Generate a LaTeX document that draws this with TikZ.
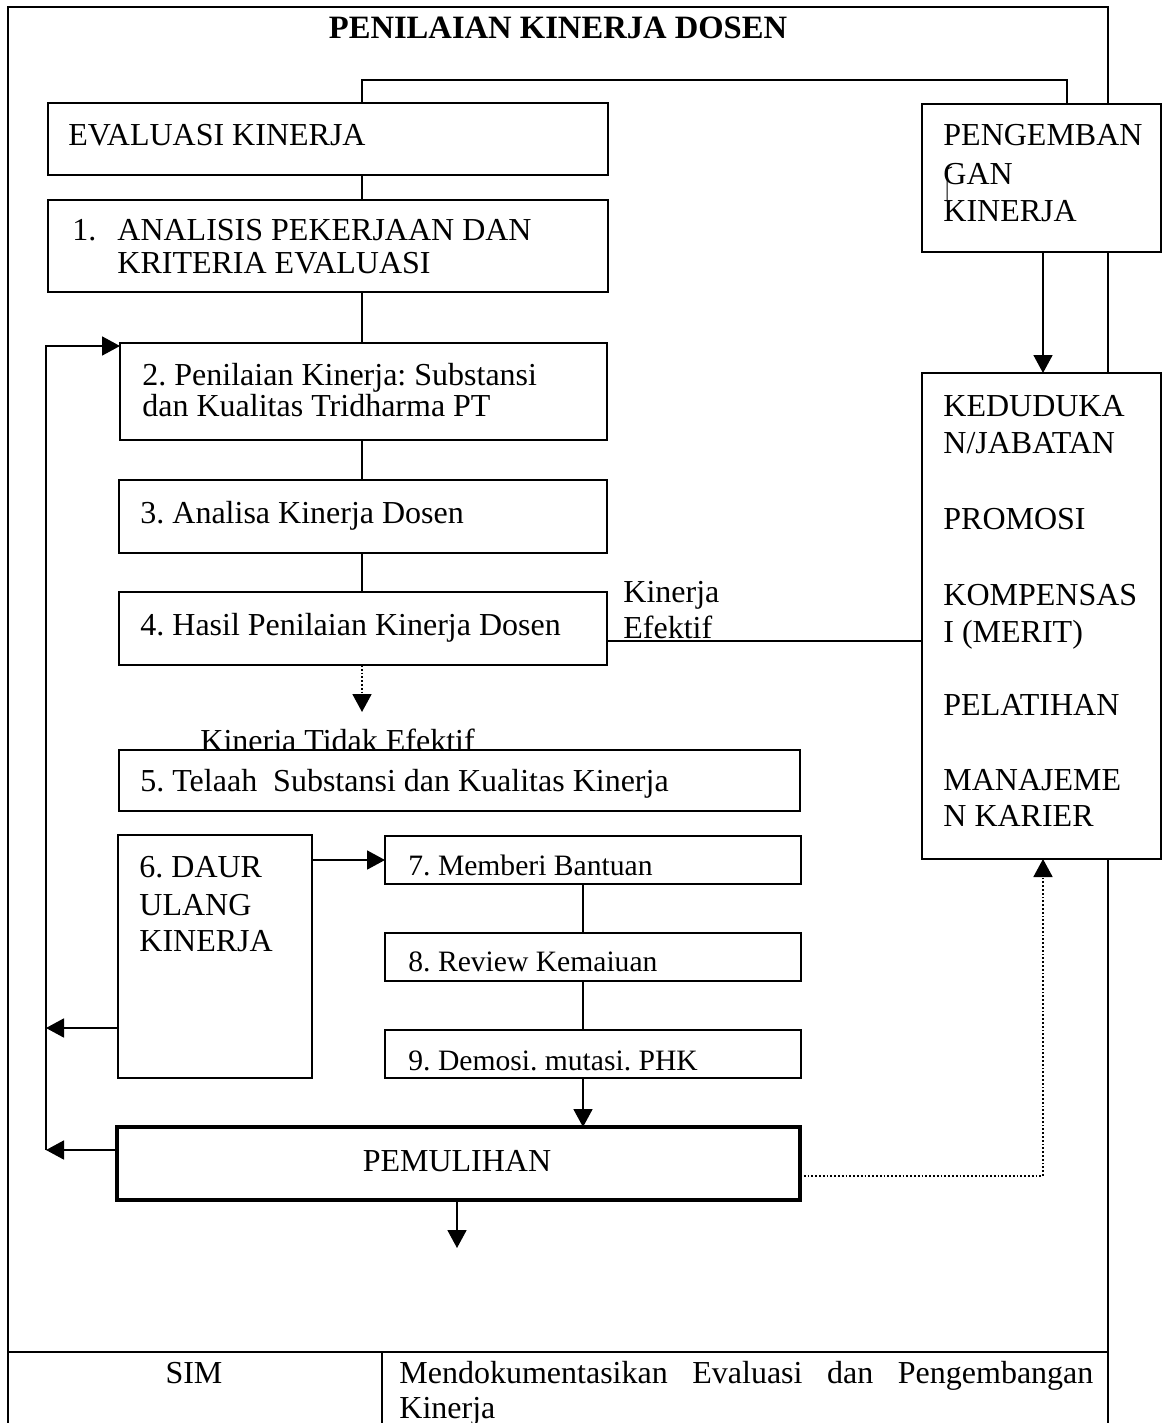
\documentclass[tikz,border=0pt]{standalone}
\usepackage{fontspec}
\setmainfont{Liberation Serif}
\usetikzlibrary{arrows.meta}
\begin{document}
\frenchspacing
\begin{tikzpicture}[x=0.5pt,y=-0.5pt,
  box/.style={draw, line width=1.1pt, fill=white, anchor=north west, inner sep=0pt, outer sep=0pt},
  lbl/.style={anchor=base west, inner sep=0pt, yshift=-1.5pt, font=\fontsize{16}{19}\selectfont},
  sml/.style={anchor=base west, inner sep=0pt, yshift=-1.5pt, font=\fontsize{14.8}{18}\selectfont},
  ctr/.style={anchor=base, inner sep=0pt, yshift=-1.5pt, font=\fontsize{16}{19}\selectfont},
  conn/.style={line width=0.9pt},
  arr/.style={line width=0.9pt, -{Triangle[length=9pt,width=9.5pt]}},
  darr/.style={line width=0.9pt, densely dotted, -{Triangle[length=9pt,width=9.5pt]}}]
\useasboundingbox (0,0) rectangle (1162,1423);
% outer frame
\draw[line width=0.9pt] (8,1423) -- (8,7) -- (1108,7) -- (1108,1423);
\node[anchor=base, inner sep=0pt, font=\bfseries\fontsize{16.3}{19}\selectfont] (title) at (558,39) {PENILAIAN KINERJA DOSEN};

% boxes
\node[box, minimum width=280pt, minimum height=36pt] (eval) at (48,103) {};
\node[box, minimum width=280pt, minimum height=46pt] (b1) at (48,200) {};
\node[box, minimum width=243.5pt, minimum height=48.5pt] (b2) at (120,343) {};
\node[box, minimum width=244pt, minimum height=36.5pt] (b3) at (119,480) {};
\node[box, minimum width=244pt, minimum height=36.5pt] (b4) at (119,592) {};
\node[anchor=base west, inner sep=0pt, font=\fontsize{16}{19}\selectfont] (tidak) at (200,751) {Kinerja Tidak Efektif};
\node[box, minimum width=340.5pt, minimum height=30.5pt] (b5) at (119,750) {};
\node[box, minimum width=97pt, minimum height=121.5pt] (b6) at (118,835) {};
\node[box, minimum width=208pt, minimum height=24pt] (b7) at (385,836) {};
\node[box, minimum width=208pt, minimum height=24pt] (b8) at (385,933) {};
\node[box, minimum width=208pt, minimum height=24pt] (b9) at (385,1030) {};
\node[box, line width=1.8pt, minimum width=341.5pt, minimum height=36.5pt] (pem) at (117,1127) {};
\node[box, minimum width=119.5pt, minimum height=74pt] (peng) at (922,104) {};
\node[box, minimum width=119.5pt, minimum height=243pt] (ked) at (922,373) {};

% texts
\node[lbl] (teval) at (68,143) {EVALUASI KINERJA};
\node[lbl] (t1n) at (72,238) {1.};
\node[lbl] (t1a) at (117,238) {ANALISIS PEKERJAAN DAN};
\node[lbl] (t1b) at (117,270) {KRITERIA EVALUASI};
\node[lbl] (t2a) at (142,382) {2. Penilaian Kinerja: Substansi};
\node[lbl] (t2b) at (142,413) {dan Kualitas Tridharma PT};
\node[lbl] (t3) at (140,520) {3. Analisa Kinerja Dosen};
\node[lbl] (t4) at (140,632) {4. Hasil Penilaian Kinerja Dosen};
\node[lbl] (tefa) at (623,599) {Kinerja};
\node[lbl] (tefb) at (623,635) {Efektif};
\node[lbl] (t5) at (140,788) {5. Telaah\ \ Substansi dan Kualitas Kinerja};
\node[lbl] (t6a) at (139,874) {6. DAUR};
\node[lbl] (t6b) at (139,912) {ULANG};
\node[lbl] (t6c) at (139,948) {KINERJA};
\node[sml] (t7) at (408,872) {7. Memberi Bantuan};
\node[sml] (t8) at (408,968) {8. Review Kemaiuan};
\node[sml] (t9) at (408,1067) {9. Demosi. mutasi. PHK};
\node[ctr] (tpem) at (457,1168) {PEMULIHAN};
\node[lbl] (tpa) at (943,143) {PENGEMBAN};
\node[lbl] (tpb) at (943,182) {GAN};
\node[lbl] (tpc) at (943,219) {KINERJA};
\draw[line width=0.5pt] (952,167) -- (947,169) -- (947,200);
\node[lbl] (k1) at (943,413) {KEDUDUKA};
\node[lbl] (k2) at (943,450) {N/JABATAN};
\node[lbl] (k3) at (943,526) {PROMOSI};
\node[lbl] (k4) at (943,602) {KOMPENSAS};
\node[lbl] (k5) at (943,639) {I (MERIT)};
\node[lbl] (k6) at (943,712) {PELATIHAN};
\node[lbl] (k7) at (943,787) {MANAJEME};
\node[lbl] (k8) at (943,823) {N KARIER};

% connectors
\coordinate (cx) at (362,0);
\coordinate (px) at (1067,80);
\coordinate (kx) at (1043,0);
\coordinate (lx) at (46,0);
\coordinate (mx) at (583,0);
\draw[conn] (eval.north -| cx) |- (px) -- (peng.north -| px);
\draw[conn] (eval.south -| cx) -- (b1.north -| cx);
\draw[conn] (b1.south -| cx) -- (b2.north -| cx);
\draw[conn] (b2.south -| cx) -- (b3.north -| cx);
\draw[conn] (b3.south -| cx) -- (b4.north -| cx);
\coordinate (tid) at (362,712);
\draw[darr] (b4.south -| cx) -- (tid);
\coordinate (ey) at (0,641);
\draw[conn] (b4.east |- ey) -- (ked.west |- ey);
\draw[arr] (peng.south -| kx) -- (ked.north -| kx);
\coordinate (ly1) at (0,1150);
\coordinate (ly2) at (0,1028);
\coordinate (ly0) at (0,346);
\draw[arr] (pem.west |- ly1) -- (lx |- ly1);
\draw[arr] (b6.west |- ly2) -- (lx |- ly2);
\draw[arr] (lx |- ly1) -- (lx |- ly0) -- (b2.west |- ly0);
\coordinate (y7) at (0,860);
\draw[arr] (b6.east |- y7) -- (b7.west |- y7);
\draw[conn] (b7.south -| mx) -- (b8.north -| mx);
\draw[conn] (b8.south -| mx) -- (b9.north -| mx);
\draw[arr] (b9.south -| mx) -- (pem.north -| mx);
\coordinate (pout) at (457,1248);
\draw[arr] (pem.south -| pout) -- (pout);
\coordinate (dy) at (0,1176);
\draw[darr] (pem.east |- dy) -| (ked.south -| kx);

% bottom table
\draw[conn] (8,1352) -- (1108,1352);
\draw[conn] (382,1352) -- (382,1423);
\node[ctr] (sim) at (194,1380) {SIM};
\node[lbl] (doc1) at (399,1380) {\makebox[347pt][s]{Mendokumentasikan Evaluasi dan Pengembangan}};
\node[lbl] (doc2) at (399,1415) {Kinerja};
\end{tikzpicture}
\end{document}
